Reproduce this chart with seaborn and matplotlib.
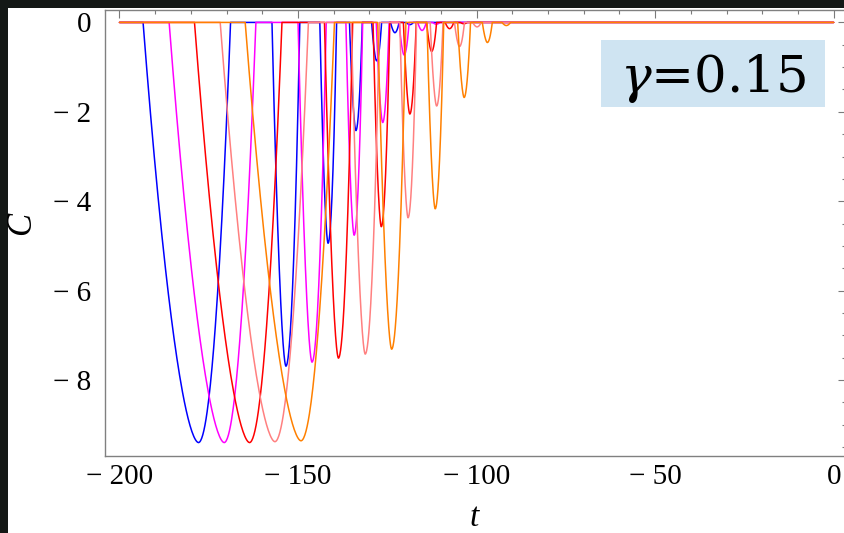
import numpy as np
import matplotlib
matplotlib.use("Agg")
import matplotlib.pyplot as plt
from matplotlib.patches import Rectangle
from matplotlib.ticker import MultipleLocator, FuncFormatter
import pandas as pd
import seaborn as sns

# ---------------- data ----------------
# each curve C(t) sits at 0 except for a sequence of dips;
# per dip: left edge, time of minimum, minimum value, right edge
t_start, t_end = -200.0, 0.0

blue_left = [-193.4, -157.3, -143.9, -135.6, -129.4, -124.1, -119.7]
blue_tmin = [-177.9, -153.4, -141.6, -133.8, -128.0, -122.9, -118.7]
blue_cmin = [-9.40, -7.69, -4.94, -2.42, -0.86, -0.23, -0.05]
blue_right = [-168.9, -149.5, -139.2, -132.0, -126.6, -121.7, -117.7]

magenta_left = [-186.1, -150.0, -136.6, -128.1, -121.7, -116.5, -112.3]
magenta_tmin = [-170.7, -146.1, -134.3, -126.3, -120.3, -115.3, -111.3]
magenta_cmin = [-9.40, -7.60, -4.76, -2.24, -0.73, -0.18, -0.04]
magenta_right = [-161.8, -142.1, -131.9, -124.5, -118.9, -114.1, -110.3]

red_left = [-179.0, -142.6, -129.0, -120.5, -114.0, -108.8, -104.6]
red_tmin = [-163.6, -138.7, -126.7, -118.7, -112.6, -107.6, -103.6]
red_cmin = [-9.40, -7.51, -4.57, -2.05, -0.65, -0.14, -0.03]
red_right = [-154.5, -134.7, -124.3, -116.9, -111.2, -106.4, -102.6]

pink_left = [-171.8, -135.1, -121.5, -113.0, -106.2, -101.1]
pink_tmin = [-156.5, -131.2, -119.2, -111.2, -104.8, -99.9]
pink_cmin = [-9.38, -7.42, -4.37, -1.87, -0.54, -0.10]
pink_right = [-147.1, -127.2, -116.8, -109.4, -103.4, -98.7]

orange_left = [-164.8, -127.7, -113.9, -105.3, -98.4, -92.9]
orange_tmin = [-149.2, -123.8, -111.6, -103.5, -97.0, -91.7]
orange_cmin = [-9.36, -7.31, -4.17, -1.68, -0.45, -0.07]
orange_right = [-139.8, -119.8, -109.2, -101.7, -95.6, -90.5]

x_major_ticks = [-200, -150, -100, -50, 0]
y_major_ticks = [0, -2, -4, -6, -8]
gamma_label = r"$\gamma$=0.15"
x_label = "t"
y_label = "C"

series = [
    ("blue", blue_left, blue_tmin, blue_cmin, blue_right, "#0000ff"),
    ("magenta", magenta_left, magenta_tmin, magenta_cmin, magenta_right, "#ff00ff"),
    ("red", red_left, red_tmin, red_cmin, red_right, "#ff0000"),
    ("pink", pink_left, pink_tmin, pink_cmin, pink_right, "#ff8080"),
    ("orange", orange_left, orange_tmin, orange_cmin, orange_right, "#ff8000"),
]


def build_curve(lefts, tmins, cmins, rights, n=60):
    """Trace the curve: flat at 0, with a rounded well between each left/right edge."""
    ts, cs = [t_start], [0.0]
    for L, M, D, R in zip(lefts, tmins, cmins, rights):
        tl = np.linspace(L, M, n)
        cl = D * (1 - np.abs((tl - M) / (M - L)) ** 1.7)
        tr = np.linspace(M, R, n)[1:]
        cr = D * (1 - ((tr - M) / (R - M)) ** 2)
        ts += list(tl) + list(tr)
        cs += list(cl) + list(cr)
    ts.append(t_end)
    cs.append(0.0)
    return pd.DataFrame({"t": ts, "C": cs})


# ---------------- figure ----------------
sns.set_theme(style="white")
plt.rcParams["font.family"] = ["Liberation Serif", "DejaVu Serif"]
plt.rcParams["axes.unicode_minus"] = True
plt.rcParams["mathtext.fontset"] = "dejavuserif"

W, H = 844, 533
fig = plt.figure(figsize=(W / 100, H / 100), dpi=100, facecolor="#141816")
fig.patches.append(Rectangle((8 / W, 0), 1, 1 - 8 / H, transform=fig.transFigure,
                             facecolor="white", edgecolor="none", zorder=-5))

ax_left, ax_right, ax_top, ax_bot = 105, 846, 9.5, 456
ax = fig.add_axes([ax_left / W, 1 - ax_bot / H, (ax_right - ax_left) / W, (ax_bot - ax_top) / H])
ax.set_facecolor("white")

for name, L, M, D, R, col in series:
    df = build_curve(L, M, D, R)
    sns.lineplot(data=df, x="t", y="C", ax=ax, color=col, lw=1.1,
                 sort=False, estimator=None, legend=False)

ax.set_xlim(-204.06, 3.45)
ax.set_ylim(-9.70, 0.289)

ax.xaxis.set_major_locator(plt.FixedLocator(x_major_ticks))
ax.xaxis.set_minor_locator(MultipleLocator(10))
ax.yaxis.set_major_locator(plt.FixedLocator(y_major_ticks))
ax.yaxis.set_minor_locator(MultipleLocator(0.5))


def fmt(v, pos):
    v = int(round(v))
    return "0" if v == 0 else "\u2212 " + str(abs(v))


ax.xaxis.set_major_formatter(FuncFormatter(fmt))
ax.yaxis.set_major_formatter(FuncFormatter(fmt))

ax.tick_params(which="both", direction="in", top=True, right=True,
               color="#7a7a7a", width=0.8, labelsize=21, labelcolor="black")
ax.tick_params(which="major", length=5.5)
ax.tick_params(which="minor", length=3.2)
ax.tick_params(axis="x", which="major", pad=6)
ax.tick_params(axis="y", which="major", pad=10)
for s in ax.spines.values():
    s.set_color("#808080")
    s.set_linewidth(1.0)
ax.set_xlabel("")
ax.set_ylabel("")

fig.text(21.5 / W, 1 - 223 / H, y_label, rotation=90, ha="center", va="center",
         fontsize=25, fontstyle="italic", color="black")
fig.text(474 / W, 1 - 518 / H, x_label, ha="center", va="center",
         fontsize=24, fontstyle="italic", color="black")

# label box
fig.patches.append(Rectangle((601 / W, 1 - 107 / H), (825 - 601) / W, (107 - 40) / H,
                             transform=fig.transFigure, facecolor="#cfe4f2",
                             edgecolor="none", zorder=5))
fig.text(713.5 / W, 1 - 92 / H, gamma_label, ha="center", va="baseline",
         fontsize=37, family=["DejaVu Serif"], color="black", zorder=6)

fig.savefig("out.png", dpi=100, facecolor=fig.get_facecolor())
